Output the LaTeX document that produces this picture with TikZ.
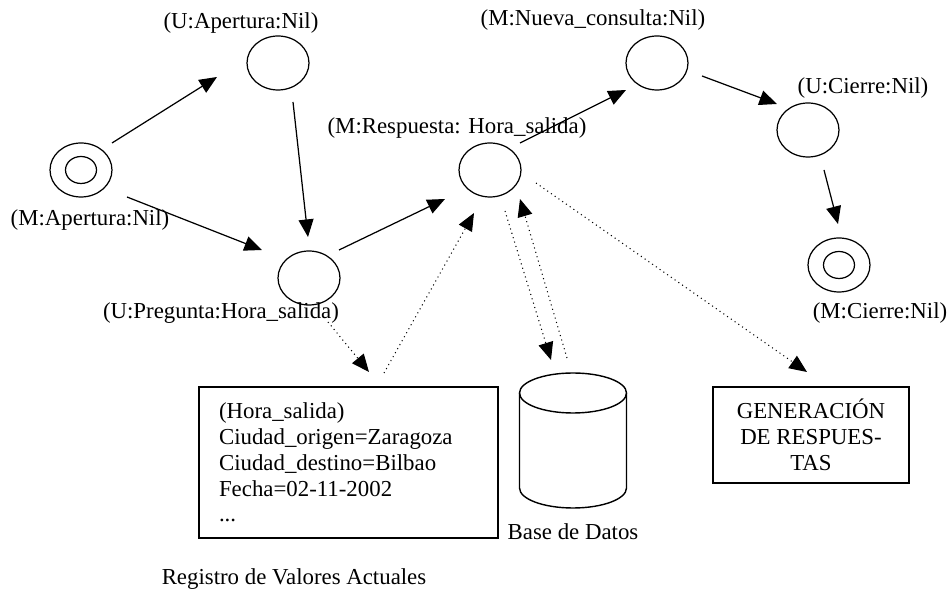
\documentclass[tikz,border=0pt]{standalone}
\usepackage{fontspec}
\setmainfont{Liberation Serif}
\usetikzlibrary{shapes.geometric,arrows.meta,calc}

\begin{document}
\begin{tikzpicture}[x=0.02cm,y=-0.02cm,
  every node/.style={font=\fontsize{13}{14.7}\selectfont},
  estado/.style={draw,ellipse,line width=.7pt,minimum width=1.24cm,minimum height=1.08cm,inner sep=0pt},
  interno/.style={draw,ellipse,line width=.7pt,minimum width=0.62cm,minimum height=0.54cm,inner sep=0pt},
  flecha/.style={line width=.7pt,-{Triangle[length=10pt,width=8.5pt]}},
  punteada/.style={dotted,line width=.6pt,-{Triangle[length=10pt,width=8.5pt]}},
  caja/.style={draw,rectangle,line width=1pt}]
             \useasboundingbox (0,0) rectangle (950,590);

             % estados
             \node[estado] (map) at (81,170) {};
             \node[interno] (mapin) at (81,170) {};
             \node[estado] (uap) at (278,63) {};
             \node[estado] (upr) at (309,278) {};
             \node[estado] (mre) at (490,170) {};
             \node[estado] (mnu) at (657,63) {};
             \node[estado] (uci) at (808,130) {};
             \node[estado] (mci) at (839,265) {};
             \node[interno] (mciin) at (839,265) {};

             \node[draw=none] (lmap) at (90,220) {(M:Apertura:Nil)};
             \node[draw=none] (luap) at (241,23) {(U:Apertura:Nil)};
             \node[draw=none] (lupr) at (221,313) {(U:Pregunta:Hora\_salida)};
             \node[draw=none] (lmre) at (457,128) {(M:Respuesta: Hora\_salida)};
             \node[draw=none] (lmnu) at (593,20) {(M:Nueva\_consulta:Nil)};
             \node[draw=none] (luci) at (863,88) {(U:Cierre:Nil)};
             \node[draw=none] (lmci) at (880,313) {(M:Cierre:Nil)};

             % registro, base de datos y generacion
             \node[caja,text width=5.18cm,inner xsep=0.4cm,minimum height=3.02cm,align=left] (reg) at (348.5,462.5)
               {(Hora\_salida)\\Ciudad\_origen=Zaragoza\\Ciudad\_destino=Bilbao\\Fecha=02-11-2002\\...};
             \node[draw=none] (lreg) at (294,579) {Registro de Valores Actuales};
             \node[draw=none,minimum width=2.14cm,minimum height=2.7cm] (db) at (573,440.5) {};
             \draw[line width=.8pt] ($(db)+(0,-47.5)$) ellipse [x radius=53.5,y radius=20];
             \draw[line width=.8pt] ($(db)+(-53.5,-47.5)$) -- ($(db)+(-53.5,47.5)$)
               arc [start angle=180,end angle=0,x radius=53.5,y radius=20] -- ($(db)+(53.5,-47.5)$);
             \node[draw=none] (ldb) at (573,532) {Base de Datos};
             \node[caja,minimum width=3.92cm,minimum height=1.92cm,align=center] (gen) at (811,435)
               {GENERACIÓN\\DE RESPUES-\\TAS};

             \draw[flecha] ($(map)+(31,-27)$) -- ($(uap)+(-61,14)$);
             \draw[flecha] ($(map)+(46,27)$) -- ($(upr)+(-47,-28)$);
             \draw[flecha] ($(uap)+(15,39)$) -- ($(upr)+(-1,-41)$);
             \draw[flecha] ($(upr)+(30,-28)$) -- ($(mre)+(-45,29)$);
             \draw[flecha] ($(mre)+(30,-27)$) -- ($(mnu)+(-31,27)$);
             \draw[flecha] ($(mnu)+(45,13)$) -- ($(uci)+(-31,-26)$);
             \draw[flecha] ($(uci)+(16,40)$) -- ($(mci)+(-1,-41)$);

             \draw[punteada] ($(lupr)+(107,9)$) -- ($(reg)+(20.5,-90.5)$);
             \draw[punteada] ($(reg)+(35.5,-89.5)$) -- ($(mre)+(-16,43)$);
             \draw[punteada] ($(mre)+(15,41)$) -- ($(db)+(-22,-80.5)$);
             \draw[punteada] ($(db)+(-6,-82.5)$) -- ($(mre)+(30,29)$);
             \draw[punteada] ($(mre)+(46,13)$) -- ($(gen)+(-4,-63)$);
\end{tikzpicture}
\end{document}
